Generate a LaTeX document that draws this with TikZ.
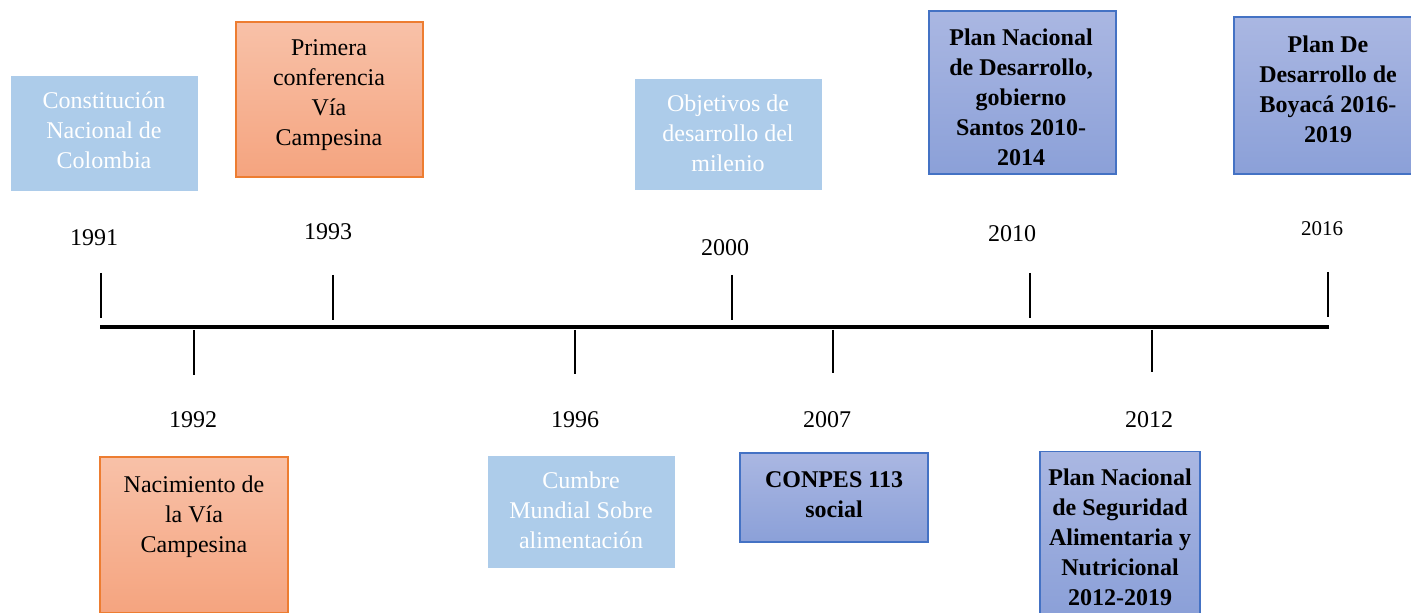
\documentclass[tikz,border=0pt]{standalone}
\usepackage{fontspec}
\setmainfont{Liberation Serif}
\definecolor{lblue}{HTML}{ADCCEA}
\definecolor{orTop}{HTML}{F8C1A8}
\definecolor{orBot}{HTML}{F5A47F}
\definecolor{orLine}{HTML}{ED7D31}
\definecolor{blTop}{HTML}{AAB7E2}
\definecolor{blBot}{HTML}{8BA0D8}
\definecolor{blLine}{HTML}{4472C4}
\tikzset{
  x=0.5pt,y=-0.5pt,
  lightbox/.style={rectangle,fill=lblue,draw=none,inner sep=0pt},
  orangebox/.style={rectangle,top color=orTop,bottom color=orBot,draw=orLine,line width=0.6pt,inner sep=0pt},
  bluebox/.style={rectangle,top color=blTop,bottom color=blBot,draw=blLine,line width=0.6pt,inner sep=0pt},
  boxtext/.style={align=center,inner sep=0pt,font=\fontsize{12}{15}\selectfont},
  whitetext/.style={boxtext,text=white},
  boldtext/.style={boxtext,font=\fontsize{12}{15}\selectfont\bfseries},
  year/.style={inner sep=0pt,font=\fontsize{12}{14}\selectfont},
  tick/.style={line width=1pt},
  axis/.style={line width=2pt}
}
\begin{document}
\begin{tikzpicture}
\useasboundingbox (0,0) rectangle (1411,613);
% boxes
\node[lightbox,minimum width=93.5pt,minimum height=57.5pt] (b1991) at (104.5,133.5) {};
\node[whitetext] (t1991) at (104,130) {Constitución\\Nacional de\\Colombia};
\node[orangebox,minimum width=93.5pt,minimum height=77.5pt] (b1993) at (329.5,99.5) {};
\node[boxtext] (t1993) at (329,95) {Primera\\conferencia\\Vía\\Campesina};
\node[lightbox,minimum width=93.5pt,minimum height=55.5pt] (b2000) at (728.5,134.5) {};
\node[whitetext] (t2000) at (728,133) {Objetivos de\\desarrollo del\\milenio};
\node[bluebox,minimum width=93.5pt,minimum height=81.5pt] (b2010) at (1022.5,92.5) {};
\node[boldtext] (t2010) at (1021,97) {Plan Nacional\\de Desarrollo,\\gobierno\\Santos 2010-\\2014};
\node[bluebox,minimum width=90pt,minimum height=78.5pt] (b2016) at (1324,95.5) {};
\node[boldtext] (t2016) at (1328,89) {Plan De\\Desarrollo de\\Boyacá 2016-\\2019};
\node[orangebox,minimum width=94pt,minimum height=78pt] (b1992) at (194,535) {};
\node[boxtext] (t1992) at (194,517) {Nacimiento de\\la Vía\\Campesina};
\node[lightbox,minimum width=93.5pt,minimum height=56pt] (b1996) at (581.5,512) {};
\node[whitetext] (t1996) at (581,510) {Cumbre\\Mundial Sobre\\alimentación};
\node[bluebox,minimum width=94pt,minimum height=44.5pt] (b2007) at (834,497.5) {};
\node[boldtext] (t2007) at (834,495) {CONPES 113\\social};
\node[bluebox,minimum width=80pt,minimum height=81pt] (b2012) at (1120,532.5) {};
\node[boldtext] (t2012) at (1120,537) {Plan Nacional\\de Seguridad\\Alimentaria y\\Nutricional\\2012-2019};
% axis
\coordinate (aL) at (100,327);
\coordinate (aR) at (1329,327);
\draw[axis] (aL) -- (aR);
% upper ticks
\coordinate (u1a) at (101,273); \coordinate (u1b) at (101,318);
\coordinate (u2a) at (333,275); \coordinate (u2b) at (333,320);
\coordinate (u3a) at (732,275); \coordinate (u3b) at (732,320);
\coordinate (u4a) at (1030,273); \coordinate (u4b) at (1030,318);
\coordinate (u5a) at (1328,272); \coordinate (u5b) at (1328,317);
\draw[tick] (u1a) -- (u1b);
\draw[tick] (u2a) -- (u2b);
\draw[tick,line width=1.4pt] (u3a) -- (u3b);
\draw[tick] (u4a) -- (u4b);
\draw[tick] (u5a) -- (u5b);
% lower ticks
\coordinate (l1a) at (194,330); \coordinate (l1b) at (194,375);
\coordinate (l2a) at (575,330); \coordinate (l2b) at (575,374);
\coordinate (l3a) at (833,330); \coordinate (l3b) at (833,373);
\coordinate (l4a) at (1152,330); \coordinate (l4b) at (1152,372);
\draw[tick] (l1a) -- (l1b);
\draw[tick] (l2a) -- (l2b);
\draw[tick] (l3a) -- (l3b);
\draw[tick] (l4a) -- (l4b);
% years
\node[year] (y1991) at (94,238) {1991};
\node[year] (y1993) at (328,232) {1993};
\node[year] (y2000) at (725,248) {2000};
\node[year] (y2010) at (1012,234) {2010};
\node[year,font=\fontsize{10.5}{12}\selectfont] (y2016) at (1322,229) {2016};
\node[year] (y1992) at (193,420) {1992};
\node[year] (y1996) at (575,420) {1996};
\node[year] (y2007) at (827,420) {2007};
\node[year] (y2012) at (1149,420) {2012};
\end{tikzpicture}
\end{document}
